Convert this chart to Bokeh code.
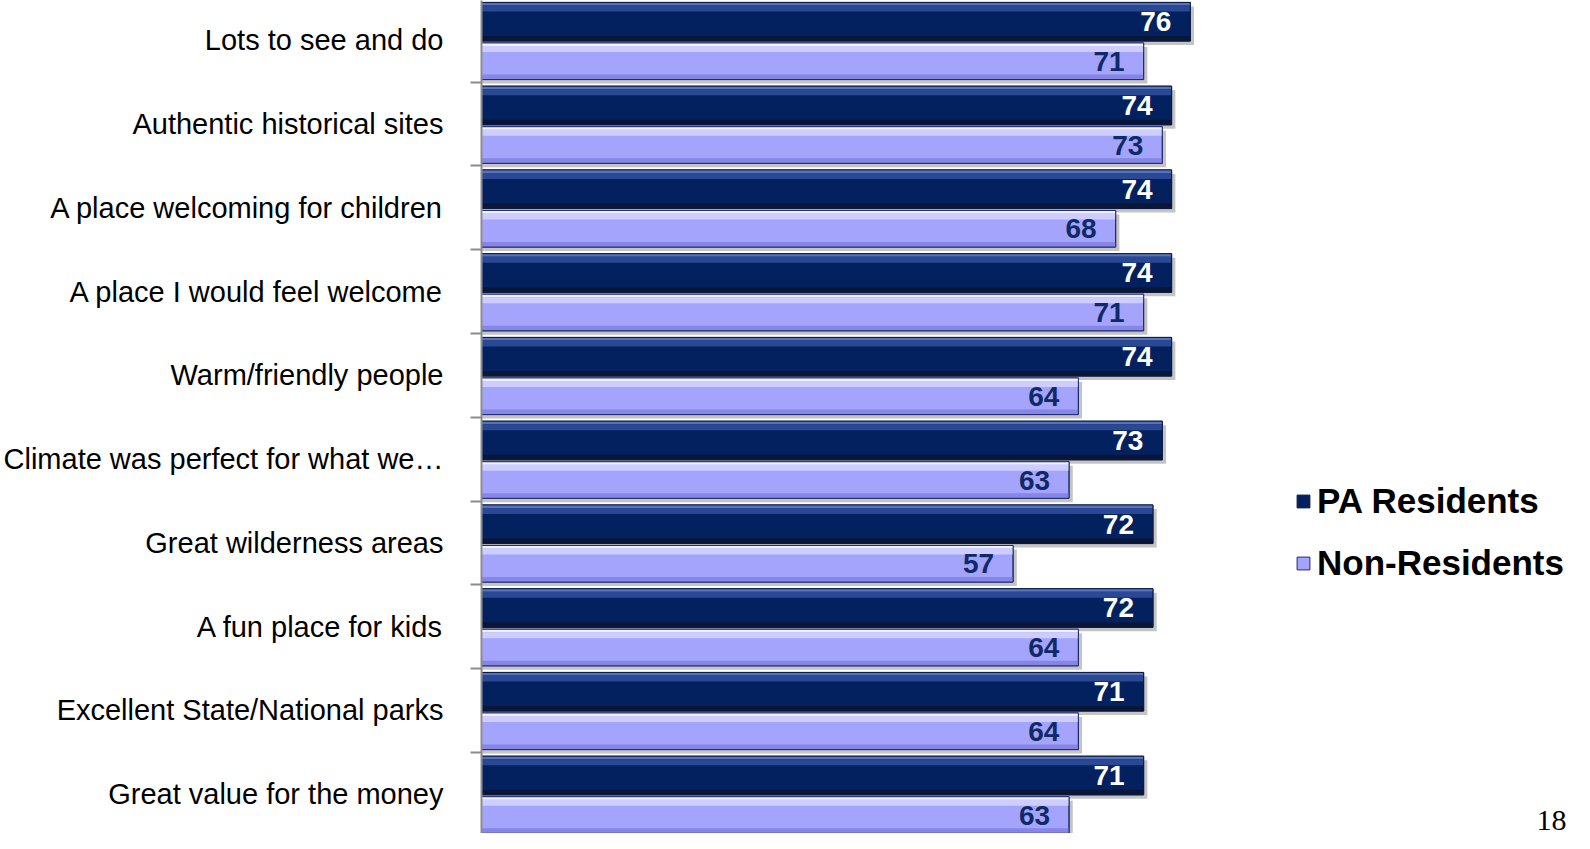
from bokeh.plotting import figure
from bokeh.models import (ColumnDataSource, Range1d, FixedTicker, Legend, LegendItem, Label)
from bokeh.core.properties import value
from bokeh.embed import file_html
from bokeh.resources import INLINE

# ---- data ----
categories = ["Lots to see and do", "Authentic historical sites", "A place welcoming for children",
              "A place I would feel welcome", "Warm/friendly people", "Climate was perfect for what we\u2026",
              "Great wilderness areas", "A fun place for kids", "Excellent State/National parks",
              "Great value for the money"]
pa_residents = [76, 74, 74, 74, 74, 73, 72, 72, 71, 71]
non_residents = [71, 73, 68, 71, 64, 63, 57, 64, 64, 63]
series_names = ["PA Residents", "Non-Residents"]
page_number = "18"

n = len(categories)
Y0, Y1 = 0.03, 9.976
PX = (Y1 - Y0) / 833.0  # one pixel in y data units

p = figure(width=1574, height=833, output_backend="svg", toolbar_location=None,
           x_range=Range1d(0, 117.2), y_range=Range1d(Y0, Y1),
           min_border_left=470, min_border_right=0, min_border_top=0, min_border_bottom=0)
p.xaxis.visible = False
p.xgrid.visible = False
p.ygrid.visible = False
p.outline_line_color = None
p.background_fill_color = "white"

tops = [n - k for k in range(n)]


def bar_layers(values, top_off, bot_off, main, line, hi1, hi2, low):
    top = [t - top_off for t in tops]
    bot = [t - bot_off for t in tops]
    # drop shadow
    p.quad(left=[0] * n, right=[v + 0.4 for v in values], top=[t - 4 * PX for t in top],
           bottom=[b - 4 * PX for b in bot], fill_color="#C4C4C4", line_color=None)
    r = p.quad(left=[0] * n, right=values, top=top, bottom=bot, fill_color=main, line_color=line, line_width=1)
    p.quad(left=[0] * n, right=values, top=top, bottom=[t - 3 * PX for t in top], fill_color=hi1, line_color=None)
    p.quad(left=[0] * n, right=values, top=[t - 3 * PX for t in top], bottom=[t - 9 * PX for t in top],
           fill_color=hi2, line_color=None)
    p.quad(left=[0] * n, right=values, top=[b + 5 * PX for b in bot], bottom=bot, fill_color=low, line_color=None)
    p.quad(left=[0] * n, right=values, top=top, bottom=bot, fill_color=None, line_color=line, line_width=1)
    return r, [(t + b) / 2 for t, b in zip(top, bot)]


r_pa, yc_pa = bar_layers(pa_residents, 0.047, 0.508, "#03215F", "#0A1A45", "#5874B8", "#2A4894", "#0A1638")
r_non, yc_non = bar_layers(non_residents, 0.531, 0.968, "#A4A4FC", "#1D2B6E", "#F0F0FF", "#CDCDFF", "#8686E6")

src_pa = ColumnDataSource(dict(x=pa_residents, y=yc_pa, t=[str(v) for v in pa_residents]))
src_non = ColumnDataSource(dict(x=non_residents, y=yc_non, t=[str(v) for v in non_residents]))
p.text(x="x", y="y", text="t", source=src_pa, x_offset=-19, text_align="right", text_baseline="middle",
       text_color="white", text_font_size="28px", text_font_style="bold", text_font=value("Liberation Sans"))
p.text(x="x", y="y", text="t", source=src_non, x_offset=-19, text_align="right", text_baseline="middle",
       text_color="#0F2A66", text_font_size="28px", text_font_style="bold", text_font=value("Liberation Sans"))

# y axis: labels at row centers, tick marks at row boundaries
centers = [t - 0.5 for t in tops]
ax = p.yaxis[0]
ax.ticker = FixedTicker(ticks=centers, minor_ticks=list(range(0, n + 1)))
ax.major_label_overrides = {c: lab for c, lab in zip(centers, categories)}
ax.major_tick_out = 0
ax.major_tick_in = 0
ax.minor_tick_out = 11
ax.minor_tick_in = 0
ax.minor_tick_line_color = "#8C8C8C"
ax.minor_tick_line_width = 2
ax.axis_line_color = "#8C8C8C"
ax.axis_line_width = 2
ax.major_label_standoff = 27
ax.major_label_text_font = "Liberation Sans"
ax.major_label_text_font_size = "29px"
ax.major_label_text_color = "black"

legend = Legend(items=[LegendItem(label=series_names[0], renderers=[r_pa]),
                       LegendItem(label=series_names[1], renderers=[r_non])],
                location=(814, 250), orientation="vertical",
                label_text_font="Liberation Sans", label_text_font_style="bold",
                label_text_font_size="35px", label_text_color="black",
                glyph_width=16, glyph_height=16, label_standoff=6, label_height=40,
                spacing=22, padding=0, margin=0, border_line_color=None, background_fill_alpha=0)
p.add_layout(legend)

p.add_layout(Label(x=117.2, y=Y0 + 4 * PX, x_offset=-8, text=page_number, text_align="right",
                   text_baseline="bottom", text_font="Liberation Serif", text_font_size="30px",
                   text_color="black"))

open("out.html", "w").write(file_html(p, INLINE))
